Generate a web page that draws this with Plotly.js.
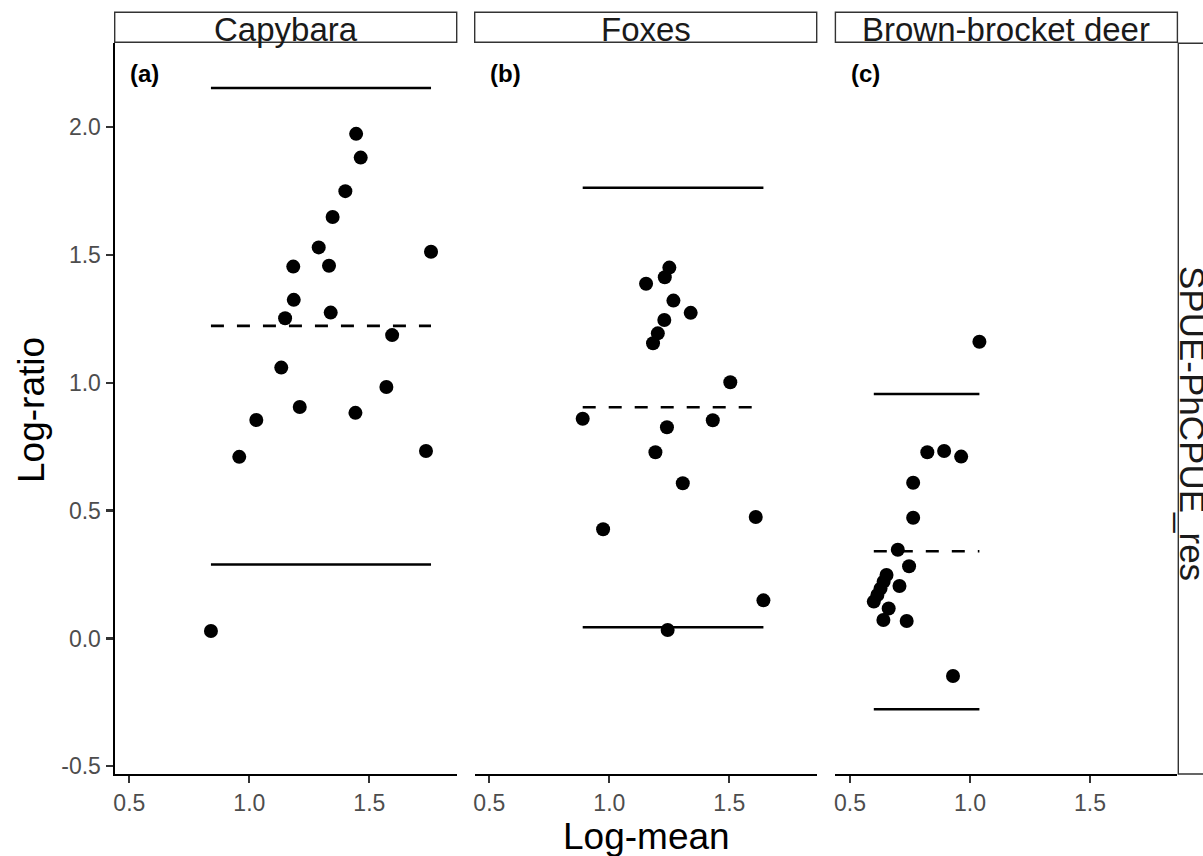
<!DOCTYPE html>
<html>
<head>
<meta charset="utf-8">
<script src="https://cdn.plot.ly/plotly-3.0.1.min.js"></script>
<style>html,body{margin:0;padding:0;background:#fff;}#chart{width:1203px;height:856px;}</style>
</head>
<body>
<div id="chart"></div>
<script>
// ---- data ----
const facetNames = ['Capybara', 'Foxes', 'Brown-brocket deer'];
const panelTags = ['(a)', '(b)', '(c)'];
const rowStripLabel = 'SPUE-PhCPUE_res';

const capybaraLogMean  = [1.445, 1.464, 1.400, 1.347, 1.289, 1.757, 1.183, 1.332, 1.185, 1.339, 1.149, 1.595, 1.133, 1.571, 1.210, 1.442, 1.029, 0.958, 1.736, 0.840];
const capybaraLogRatio = [1.973, 1.880, 1.749, 1.648, 1.529, 1.512, 1.454, 1.457, 1.324, 1.274, 1.252, 1.186, 1.059, 0.983, 0.905, 0.882, 0.854, 0.710, 0.733, 0.029];

const foxesLogMean  = [1.250, 1.231, 1.153, 1.267, 1.339, 1.229, 1.202, 1.182, 1.504, 0.889, 1.431, 1.240, 1.192, 1.306, 1.610, 0.974, 1.642, 1.243];
const foxesLogRatio = [1.450, 1.412, 1.387, 1.321, 1.273, 1.245, 1.193, 1.154, 1.002, 0.859, 0.853, 0.826, 0.728, 0.607, 0.475, 0.427, 0.149, 0.033];

const deerLogMean  = [1.039, 0.822, 0.892, 0.963, 0.763, 0.763, 0.699, 0.746, 0.706, 0.661, 0.639, 0.736, 0.929, 0.652, 0.640, 0.627, 0.614, 0.599];
const deerLogRatio = [1.160, 0.728, 0.733, 0.711, 0.609, 0.472, 0.347, 0.282, 0.205, 0.117, 0.072, 0.068, -0.147, 0.248, 0.222, 0.195, 0.170, 0.144];

const meanBias = [1.222, 0.904, 0.341];
const upperLimit = [2.152, 1.762, 0.956];
const lowerLimit = [0.289, 0.044, -0.277];

const xTickVals = [0.5, 1.0, 1.5];
const xTickText = ['0.5', '1.0', '1.5'];
const yTickVals = [-0.5, 0.0, 0.5, 1.0, 1.5, 2.0];
const yTickText = ['-0.5', '0.0', '0.5', '1.0', '1.5', '2.0'];

const xTitle = 'Log-mean';
const yTitle = 'Log-ratio';

// ---- layout helpers ----
const W = 1203, H = 856;
const FONT = '"Liberation Sans", Arial, Helvetica, sans-serif';
const px = v => v / W;
const py = v => 1 - v / H;
const panelPx = [[114.7, 456.7], [474.7, 816.7], [835.4, 1177.4]];
const panelTop = 43.3, panelBottom = 774;
const xRange = [0.439, 1.864];
const yRange = [-0.530, 2.327];

const seriesX = [capybaraLogMean, foxesLogMean, deerLogMean];
const seriesY = [capybaraLogRatio, foxesLogRatio, deerLogRatio];

const traces = [];
const layout = {
  width: W, height: H,
  margin: {l: 0, r: 0, t: 0, b: 0},
  paper_bgcolor: '#ffffff', plot_bgcolor: '#ffffff',
  showlegend: false,
  font: {family: FONT, color: '#000'},
  shapes: [], annotations: []
};

for (let i = 0; i < 3; i++) {
  const sfx = i === 0 ? '' : String(i + 1);
  const xa = 'x' + sfx, ya = 'y' + sfx;
  const xs = seriesX[i], ys = seriesY[i];
  const xmin = Math.min(...xs), xmax = Math.max(...xs);

  // limits of agreement (solid) and mean (dashed)
  [upperLimit[i], lowerLimit[i]].forEach(v => traces.push({
    x: [xmin, xmax], y: [v, v], xaxis: xa, yaxis: ya, mode: 'lines',
    line: {color: '#000', width: 2.6}, hoverinfo: 'skip'
  }));
  traces.push({
    x: [xmin, xmax], y: [meanBias[i], meanBias[i]], xaxis: xa, yaxis: ya, mode: 'lines',
    line: {color: '#000', width: 2.6, dash: '13px,13px'}, hoverinfo: 'skip'
  });
  traces.push({
    x: xs, y: ys, xaxis: xa, yaxis: ya, mode: 'markers',
    marker: {color: '#000', size: 14, line: {width: 0}}
  });

  layout['xaxis' + sfx] = {
    domain: [px(panelPx[i][0]), px(panelPx[i][1])],
    anchor: ya, range: xRange, fixedrange: true,
    showgrid: false, zeroline: false,
    showline: true, linecolor: '#000', linewidth: 2.2,
    ticks: 'outside', ticklen: 7, tickwidth: 2.2, tickcolor: '#333',
    tickmode: 'array', tickvals: xTickVals, ticktext: xTickText,
    tickfont: {family: FONT, size: 23, color: '#4d4d4d'}
  };
  layout['yaxis' + sfx] = {
    domain: [py(panelBottom), py(panelTop)],
    anchor: xa, range: yRange, fixedrange: true,
    showgrid: false, zeroline: false,
    showline: i === 0, linecolor: '#000', linewidth: 2.2,
    ticks: i === 0 ? 'outside' : '', ticklen: 7, tickwidth: 2.2, tickcolor: '#333',
    showticklabels: i === 0,
    tickmode: 'array', tickvals: yTickVals, ticktext: yTickText,
    tickfont: {family: FONT, size: 23, color: '#4d4d4d'}
  };

  // top strip
  layout.shapes.push({
    type: 'rect', xref: 'paper', yref: 'paper',
    x0: px(panelPx[i][0]), x1: px(panelPx[i][1]), y0: py(42.3), y1: py(12.3),
    line: {color: '#333', width: 1.4}, fillcolor: '#ffffff'
  });
  layout.annotations.push({
    xref: 'paper', yref: 'paper', x: px((panelPx[i][0] + panelPx[i][1]) / 2), y: py(29),
    xanchor: 'center', yanchor: 'middle', showarrow: false,
    text: facetNames[i], font: {family: FONT, size: 33, color: '#1a1a1a'}
  });
  // panel tag
  layout.annotations.push({
    xref: xa, yref: ya, x: 0.495, y: 2.207, xanchor: 'left', yanchor: 'middle', showarrow: false,
    text: '<b>' + panelTags[i] + '</b>', font: {family: FONT, size: 24, color: '#000'}
  });
}

// right strip
layout.shapes.push({
  type: 'rect', xref: 'paper', yref: 'paper',
  x0: px(1178.3), x1: px(1230), y0: py(panelBottom), y1: py(panelTop),
  line: {color: '#333', width: 1.4}, fillcolor: '#ffffff'
});
layout.annotations.push({
  xref: 'paper', yref: 'paper', x: px(1193), y: py(423),
  xanchor: 'center', yanchor: 'middle', showarrow: false, textangle: 90,
  text: rowStripLabel, font: {family: FONT, size: 35, color: '#1a1a1a'}
});

// axis titles
layout.annotations.push({
  xref: 'paper', yref: 'paper', x: px(646), y: py(836),
  xanchor: 'center', yanchor: 'middle', showarrow: false,
  text: xTitle, font: {family: FONT, size: 37, color: '#000'}
});
layout.annotations.push({
  xref: 'paper', yref: 'paper', x: px(31), y: py(410),
  xanchor: 'center', yanchor: 'middle', showarrow: false, textangle: -90,
  text: yTitle, font: {family: FONT, size: 37, color: '#000'}
});

Plotly.newPlot('chart', traces, layout, {displayModeBar: false, staticPlot: true});
</script>
</body>
</html>
